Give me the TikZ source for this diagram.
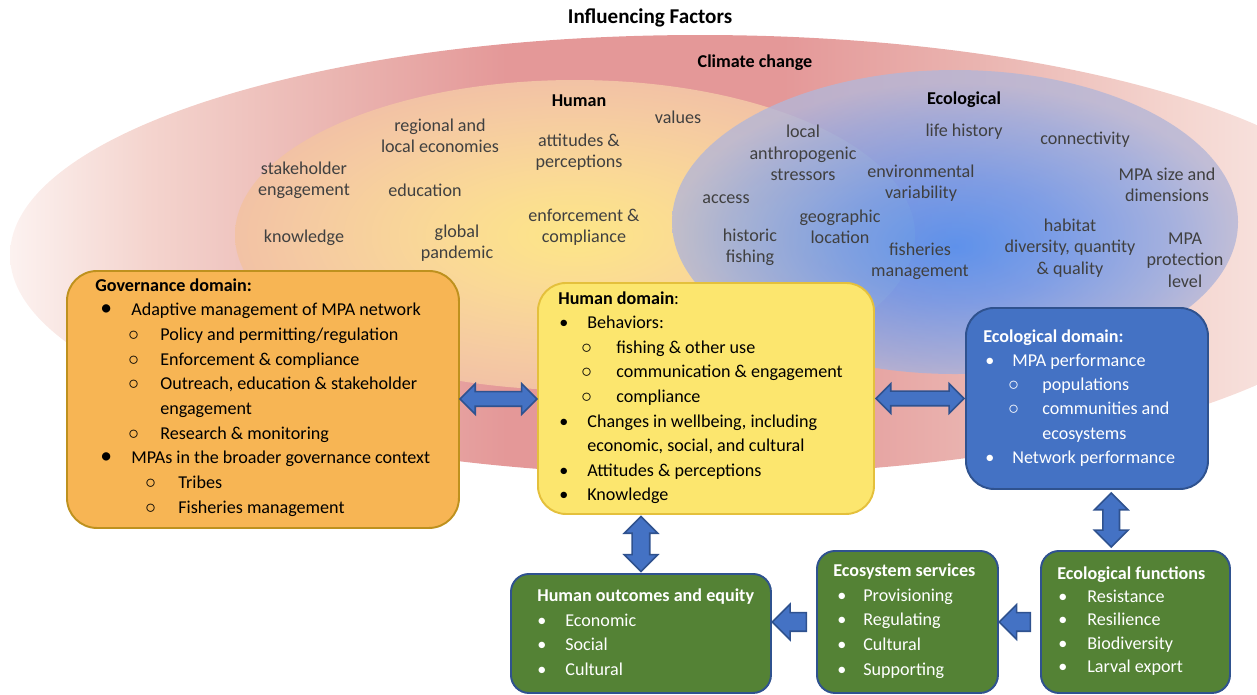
\documentclass[tikz,border=0pt]{standalone}
\usepackage{fontspec}
\setmainfont{Carlito}
\usetikzlibrary{calc,shapes.arrows}

% colours
\definecolor{climA}{RGB}{252,242,240}
\definecolor{climB}{RGB}{244,212,206}
\definecolor{climC}{RGB}{234,180,176}
\definecolor{climD}{RGB}{228,152,152}
\definecolor{humA}{RGB}{253,230,135}
\definecolor{humB}{RGB}{250,217,150}
\definecolor{humC}{RGB}{245,202,162}
\definecolor{humD}{RGB}{242,194,165}
\definecolor{ecoA}{RGB}{60,138,250}
\definecolor{ecoB}{RGB}{100,150,240}
\definecolor{ecoC}{RGB}{150,170,225}
\definecolor{ecoD}{RGB}{180,182,215}
\definecolor{cloudgrey}{RGB}{64,64,64}
\definecolor{govfill}{RGB}{247,181,84}
\definecolor{govline}{RGB}{190,145,30}
\definecolor{humfill}{RGB}{252,230,110}
\definecolor{humline}{RGB}{228,192,60}
\definecolor{ecofill}{RGB}{68,114,196}
\definecolor{boxline}{RGB}{47,82,143}
\definecolor{greenfill}{RGB}{84,130,53}
\definecolor{arrfill}{RGB}{68,114,196}

\pgfdeclarehorizontalshading{climshade}{100bp}{color(0bp)=(climA); color(25bp)=(climA);
  color(30bp)=(climB); color(37bp)=(climC); color(43bp)=(climD); color(53bp)=(climD);
  color(60bp)=(climC); color(67bp)=(climB); color(75bp)=(climA); color(100bp)=(climA)}
\pgfdeclareradialshading{humshade}{\pgfpoint{0bp}{0bp}}{color(0bp)=(humA); color(10bp)=(humB);
  color(20bp)=(humC); color(25bp)=(humD); color(50bp)=(humD)}
\pgfdeclareradialshading{ecoshade}{\pgfpoint{0bp}{-4bp}}{color(0bp)=(ecoA); color(10bp)=(ecoB);
  color(20bp)=(ecoC); color(25bp)=(ecoD); color(50bp)=(ecoD)}

\newlength\pxu
\setlength\pxu{0.02cm}
\newcommand{\li}[4]{\hspace*{#1\pxu}\makebox[#2\pxu][l]{#3}#4}
\newcommand{\bigdot}{\scalebox{1.3}{\textbullet}}
\newcommand{\wcirc}{\scalebox{1.2}{$\circ$}}

\begin{document}
\begin{tikzpicture}[x=0.02cm, y=-0.02cm,
  cloudtxt/.style={font=\fontsize{10.3}{12.1}\selectfont, text=cloudgrey, align=center, inner sep=0pt},
  cloudhead/.style={font=\bfseries\fontsize{10.3}{12.1}\selectfont, inner sep=0pt},
  domainbox/.style={anchor=north west, inner sep=0pt, line width=1.1pt},
  boxtxt/.style={anchor=north west, align=left, inner sep=0pt, font=\fontsize{10.3}{#1}\selectfont},
  boxtxt/.default=14pt,
  dblarrow/.style={double arrow, draw=boxline, fill=arrfill, line width=0.9pt, inner xsep=0pt,
    double arrow tip angle=90},
  sglarrow/.style={single arrow, draw=boxline, fill=arrfill, line width=0.9pt, inner xsep=0pt,
    single arrow tip angle=90}]
  \useasboundingbox (0,0) rectangle (1257,694);

  % influencing factors
  \begin{scope}
    \clip (0,0) rectangle (1257,694);
    \shade [shading=climshade] (700,255) ellipse [x radius=690\pxu, y radius=220\pxu];
    \shade [shading=humshade] (575,235) ellipse [x radius=340\pxu, y radius=155\pxu];
    \shade [shading=ecoshade, opacity=.8] (955,222) ellipse [x radius=283\pxu, y radius=152\pxu];
  \end{scope}

  \node [cloudhead, font=\bfseries\fontsize{12}{14}\selectfont] (infl) at (650,18) {Influencing Factors};
  \node [cloudhead] (climate) at (755,63) {Climate change};
  \node [cloudhead] (humhead) at (579,101) {Human};
  \node [cloudhead] (ecohead) at (964,100) {Ecological};

  \node [cloudtxt] (values) at (678,117) {values};
  \node [cloudtxt] (econ) at (440,136) {regional and\\local economies};
  \node [cloudtxt] (attit) at (579,152) {attitudes \&\\perceptions};
  \node [cloudtxt] (stake) at (304,180) {stakeholder\\engagement};
  \node [cloudtxt] (educ) at (425,190) {education};
  \node [cloudtxt] (enforce) at (584,227) {enforcement \&\\compliance};
  \node [cloudtxt] (know) at (304,238) {knowledge};
  \node [cloudtxt] (pandemic) at (457,243) {global\\pandemic};
  \node [cloudtxt] (stress) at (803,153) {local\\anthropogenic\\stressors};
  \node [cloudtxt] (lifehist) at (964,132) {life history};
  \node [cloudtxt] (connect) at (1085,140) {connectivity};
  \node [cloudtxt] (envvar) at (921,183) {environmental\\variability};
  \node [cloudtxt] (mpasize) at (1167,185) {MPA size and\\dimensions};
  \node [cloudtxt] (access) at (726,199) {access};
  \node [cloudtxt] (geoloc) at (840,227) {geographic\\location};
  \node [cloudtxt] (histfish) at (750,247) {historic\\fishing};
  \node [cloudtxt] (fishmgmt) at (920,261) {fisheries\\management};
  \node [cloudtxt] (habitat) at (1070,248) {habitat\\diversity, quantity\\\& quality};
  \node [cloudtxt] (protect) at (1185,260) {MPA\\protection\\level};

  % domains
  \node [domainbox, fill=govfill, draw=govline, rounded corners=30\pxu,
    minimum width=392\pxu, minimum height=257\pxu] (gov) at (66,270) {};
  \node [boxtxt=14.05pt] (govtxt) at ($(gov.north west)+(29,8)$) {%
    \textbf{Governance domain:}\\
    \li{5}{31}{\bigdot}{Adaptive management of MPA network}\\
    \li{33}{32}{\wcirc}{Policy and permitting/regulation}\\
    \li{33}{32}{\wcirc}{Enforcement \& compliance}\\
    \li{33}{32}{\wcirc}{Outreach, education \& stakeholder}\\
    \hspace*{65\pxu}engagement\\
    \li{33}{32}{\wcirc}{Research \& monitoring}\\
    \li{5}{31}{\bigdot}{MPAs in the broader governance context}\\
    \li{50}{33}{\wcirc}{Tribes}\\
    \li{50}{33}{\wcirc}{Fisheries management}};

  \node [domainbox, fill=humfill, draw=humline, rounded corners=28\pxu,
    minimum width=336\pxu, minimum height=231\pxu] (hum) at (537,282) {};
  \node [boxtxt=14pt] (humtxt) at ($(hum.north west)+(21,9)$) {%
    \textbf{Human domain}:\\
    \li{1}{28}{\textbullet}{Behaviors:}\\
    \li{23}{35}{\wcirc}{fishing \& other use}\\
    \li{23}{35}{\wcirc}{communication \& engagement}\\
    \li{23}{35}{\wcirc}{compliance}\\
    \li{1}{28}{\textbullet}{Changes in wellbeing, including}\\
    \hspace*{29\pxu}economic, social, and cultural\\
    \li{1}{28}{\textbullet}{Attitudes \& perceptions}\\
    \li{1}{28}{\textbullet}{Knowledge}};

  \node [domainbox, fill=ecofill, draw=boxline, rounded corners=28\pxu,
    minimum width=242\pxu, minimum height=181\pxu] (ecod) at (965,307) {};
  \node [boxtxt=13.8pt, text=white] (ecodtxt) at ($(ecod.north west)+(18,22)$) {%
    \textbf{Ecological domain:}\\
    \li{2}{27}{\textbullet}{MPA performance}\\
    \li{25}{34}{\wcirc}{populations}\\
    \li{25}{34}{\wcirc}{communities and}\\
    \hspace*{59\pxu}ecosystems\\
    \li{2}{27}{\textbullet}{Network performance}};

  % outcomes
  \node [domainbox, fill=greenfill, draw=boxline, rounded corners=18\pxu,
    minimum width=260\pxu, minimum height=119\pxu] (hout) at (510,573) {};
  \node [boxtxt=14.2pt, text=white] (houttxt) at ($(hout.north west)+(27,15)$) {%
    \textbf{Human outcomes and equity}\\
    \li{0}{28}{\textbullet}{Economic}\\
    \li{0}{28}{\textbullet}{Social}\\
    \li{0}{28}{\textbullet}{Cultural}};

  \node [domainbox, fill=greenfill, draw=boxline, rounded corners=18\pxu,
    minimum width=181\pxu, minimum height=142\pxu] (eser) at (816,550) {};
  \node [boxtxt=14.2pt, text=white] (esertxt) at ($(eser.north west)+(17,13)$) {%
    \textbf{Ecosystem services}\\
    \li{4}{26}{\textbullet}{Provisioning}\\
    \li{4}{26}{\textbullet}{Regulating}\\
    \li{4}{26}{\textbullet}{Cultural}\\
    \li{4}{26}{\textbullet}{Supporting}};

  \node [domainbox, fill=greenfill, draw=boxline, rounded corners=18\pxu,
    minimum width=189\pxu, minimum height=142\pxu] (ecof) at (1040,550) {};
  \node [boxtxt=13.3pt, text=white] (eceftxt) at ($(ecof.north west)+(17,16)$) {%
    \textbf{Ecological functions}\\
    \li{1}{29}{\textbullet}{Resistance}\\
    \li{1}{29}{\textbullet}{Resilience}\\
    \li{1}{29}{\textbullet}{Biodiversity}\\
    \li{1}{29}{\textbullet}{Larval export}};

  % block arrows
  \node [dblarrow, inner ysep=6.5\pxu, double arrow head extend=8\pxu, minimum height=77\pxu]
    (govhum) at ($(gov.east)!.5!(hum.west)$) {};
  \node [dblarrow, inner ysep=6.5\pxu, double arrow head extend=7.5\pxu, minimum height=88\pxu]
    (humeco) at ($(hum.east)!.5!(ecod.west)$) {};
  \node [dblarrow, rotate=90, inner ysep=8\pxu, double arrow head extend=8\pxu, minimum height=55\pxu]
    (humout) at ($(hout.north)!.5!(hout.north |- hum.south)$) {};
  \node [dblarrow, rotate=90, inner ysep=7.5\pxu, double arrow head extend=8.5\pxu, minimum height=54\pxu]
    (ecofun) at ($(ecod.south)!.5!(ecof.north)$) {};
  \node [sglarrow, rotate=180, inner ysep=8.5\pxu, single arrow head extend=8.5\pxu, minimum height=34\pxu]
    (serout) at ($(eser.west)!.5!(hout.east |- eser.west)$) {};
  \node [sglarrow, rotate=180, inner ysep=8.5\pxu, single arrow head extend=8\pxu, minimum height=31\pxu]
    (funser) at ($(ecof.west)!.5!(eser.east)$) {};
\end{tikzpicture}
\end{document}
